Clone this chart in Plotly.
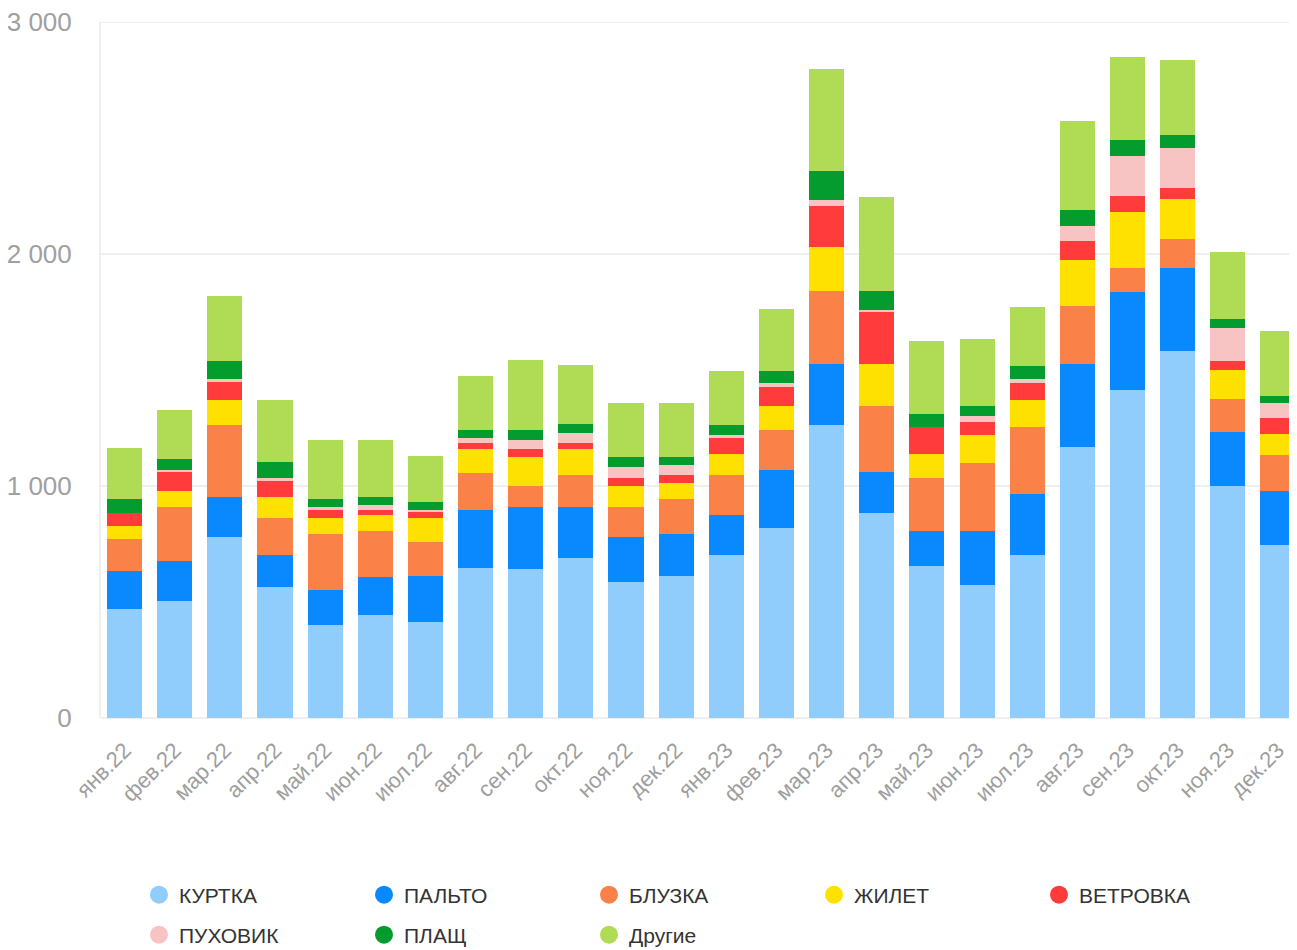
import plotly.graph_objects as go

months = ["янв.22", "фев.22", "мар.22", "апр.22", "май.22", "июн.22", "июл.22", "авг.22",
          "сен.22", "окт.22", "ноя.22", "дек.22", "янв.23", "фев.23", "мар.23", "апр.23",
          "май.23", "июн.23", "июл.23", "авг.23", "сен.23", "окт.23", "ноя.23", "дек.23"]

kurtka   = [468, 503, 779, 563, 403, 446, 412, 645, 641, 688, 585, 610, 701, 817, 1263, 883, 654, 573, 701, 1169, 1412, 1583, 998, 744]
palto    = [164, 172, 172, 138, 147, 160, 198, 250, 267, 220, 194, 181, 173, 250, 265, 177, 152, 233, 264, 358, 426, 357, 233, 233]
bluzka   = [138, 233, 311, 159, 241, 199, 147, 160, 91, 138, 129, 152, 172, 173, 311, 284, 227, 295, 288, 250, 102, 125, 146, 158]
zhilet   = [56, 69, 107, 91, 69, 69, 103, 103, 125, 112, 91, 69, 91, 104, 193, 184, 104, 118, 116, 198, 243, 173, 125, 90]
vetrovka = [56, 82, 78, 74, 35, 22, 26, 26, 34, 26, 34, 34, 69, 82, 173, 220, 116, 55, 77, 79, 69, 47, 35, 69]
puhovik  = [0, 9, 13, 8, 13, 22, 9, 22, 39, 43, 48, 43, 13, 20, 26, 9, 0, 26, 14, 67, 171, 173, 142, 62]
plasch   = [60, 47, 78, 69, 34, 34, 34, 34, 43, 39, 43, 35, 43, 48, 125, 82, 57, 44, 57, 69, 69, 55, 42, 34]
drugie   = [221, 211, 280, 267, 255, 246, 199, 233, 302, 255, 233, 233, 233, 267, 440, 406, 313, 288, 254, 385, 358, 324, 289, 279]

series_names = ["КУРТКА", "ПАЛЬТО", "БЛУЗКА", "ЖИЛЕТ", "ВЕТРОВКА", "ПУХОВИК", "ПЛАЩ", "Другие"]
series_values = [kurtka, palto, bluzka, zhilet, vetrovka, puhovik, plasch, drugie]
colors = ["#90CDFD", "#0A89FF", "#FA8249", "#FFE100", "#FF3B3B", "#F7C3C3", "#049B2F", "#B0DB55"]

y_ticks = [0, 1000, 2000, 3000]
y_tick_text = ["0", "1 000", "2 000", "3 000"]

FONT = "Liberation Sans, Arial, sans-serif"
GRID = "#EFEFEF"

# page has an 8px body margin: figure is sized/offset so the plot lands where the reference has it
W, H = 1289, 942

fig = go.Figure()
for name, vals, col in zip(series_names, series_values, colors):
    fig.add_trace(go.Bar(x=months, y=vals, name=name, marker=dict(color=col, line=dict(width=0)),
                         showlegend=False, legendgroup=name))

for i, (name, col) in enumerate(zip(series_names, colors)):
    fig.add_trace(go.Scatter(x=[None], y=[None], mode="markers", name=name, legendgroup=name,
                             marker=dict(size=20, color=col, symbol="circle",
                                         line=dict(color=col, width=2)),
                             legend="legend" if i < 5 else "legend2"))

legend_common = dict(orientation="h", xref="container", yref="container", xanchor="left",
                     yanchor="middle", entrywidth=180, entrywidthmode="pixels",
                     font=dict(family=FONT, size=21, color="#333333"),
                     bgcolor="rgba(0,0,0,0)", itemclick=False, itemdoubleclick=False)

fig.update_layout(
    width=W, height=H,
    margin=dict(l=93, r=0, t=14, b=232),
    barmode="stack", bargap=0.3,
    plot_bgcolor="white", paper_bgcolor="white",
    font=dict(family=FONT),
    legend=dict(x=131 / W, y=1 - 887 / H, **legend_common),
    legend2=dict(x=131 / W, y=1 - 927 / H, **legend_common),
)
# top grid line at the axis maximum (plotly drops gridlines at the range ends)
fig.add_shape(type="line", xref="paper", yref="y", x0=0, x1=1, y0=y_ticks[-1], y1=y_ticks[-1],
              line=dict(color=GRID, width=2), layer="below")
fig.update_xaxes(range=[-0.47, 23.38], tickangle=-45, showgrid=False, showline=False,
                 automargin=False, ticklabelstandoff=14,
                 tickfont=dict(family=FONT, size=22, color="#9E9E9E"), ticks="")
fig.update_yaxes(range=[0, 3000], tickvals=y_ticks, ticktext=y_tick_text, showgrid=True,
                 gridcolor=GRID, gridwidth=2, zeroline=True, zerolinecolor=GRID,
                 zerolinewidth=2, showline=True, linecolor=GRID, linewidth=2,
                 ticks="", ticklabelstandoff=22, automargin=False, ticklabeloverflow="allow",
                 tickfont=dict(family=FONT, size=26, color="#A0A0A0"))

fig.write_html("out.html")
